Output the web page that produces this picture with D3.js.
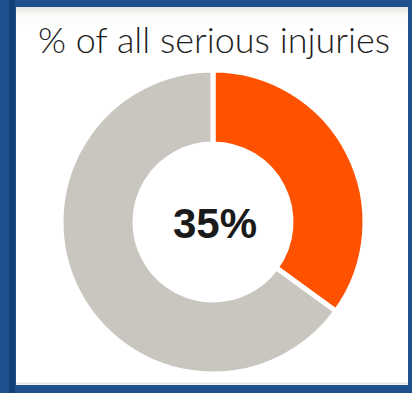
<!DOCTYPE html>
<html>
<head>
<meta charset="utf-8">
<script src="https://cdn.jsdelivr.net/npm/d3@7"></script>
<style>
  html, body { margin: 0; padding: 0; background: #1d4d8d; }
  svg { display: block; }
</style>
</head>
<body>
<svg id="chart" width="412" height="393"></svg>
<script>
// Donut values: share of all serious injuries vs. the remainder
const categories = ["This group", "All other"];
const values = [35, 65];
const sliceColors = ["#fe5200", "#c9c6c0"];
const titleText = "% of all serious injuries";
const centerLabel = "35%";

const W = 412, H = 393;
const svg = d3.select("#chart");

const defs = svg.append("defs");
const panelGrad = defs.append("linearGradient")
  .attr("id", "panelShade").attr("x1", 0).attr("y1", 0).attr("x2", 0).attr("y2", 1);
panelGrad.append("stop").attr("offset", "0").attr("stop-color", "#e4e6e2");
panelGrad.append("stop").attr("offset", "0.02").attr("stop-color", "#fbfbf9");
panelGrad.append("stop").attr("offset", "0.06").attr("stop-color", "#ffffff");
panelGrad.append("stop").attr("offset", "1").attr("stop-color", "#ffffff");

// blue frame with a darker stripe on the left
svg.append("rect").attr("x", 0).attr("y", 0).attr("width", W).attr("height", H).attr("fill", "#1e4f8f");
svg.append("rect").attr("x", 9).attr("y", 0).attr("width", 6).attr("height", H).attr("fill", "#143f78");

// white panel
const panel = { x: 16, y: 7, w: 392, h: 378 };
svg.append("rect")
  .attr("x", panel.x).attr("y", panel.y)
  .attr("width", panel.w).attr("height", panel.h)
  .attr("fill", "url(#panelShade)");
svg.append("line")
  .attr("x1", panel.x).attr("x2", panel.x + panel.w)
  .attr("y1", panel.y + panel.h - 1.5).attr("y2", panel.y + panel.h - 1.5)
  .attr("stroke", "#e6e8e4").attr("stroke-width", 2);

// title
svg.append("text")
  .attr("x", 214).attr("y", 53)
  .attr("text-anchor", "middle")
  .attr("font-family", "Lato, 'Open Sans', sans-serif")
  .attr("font-weight", 300)
  .attr("font-size", 35)
  .attr("fill", "#1e1e1e")
  .attr("textLength", 352)
  .attr("lengthAdjust", "spacingAndGlyphs")
  .text(titleText);

// donut
const cx = 213, cy = 222, outerR = 152, innerR = 78;
const pie = d3.pie().sort(null).value(d => d.value);
const arc = d3.arc().innerRadius(innerR).outerRadius(outerR);
const data = categories.map((c, i) => ({ name: c, value: values[i], color: sliceColors[i] }));

const g = svg.append("g").attr("transform", `translate(${cx},${cy})`);
g.selectAll("path")
  .data(pie(data))
  .join("path")
  .attr("d", arc)
  .attr("fill", d => d.data.color)
  .attr("stroke", "#ffffff")
  .attr("stroke-width", 5)
  .attr("stroke-linejoin", "miter");

// centre value
g.append("text")
  .attr("x", 2).attr("y", 16)
  .attr("text-anchor", "middle")
  .attr("font-family", "'Liberation Sans', Arial, sans-serif")
  .attr("font-weight", 700)
  .attr("font-size", 42)
  .attr("fill", "#1a1a1a")
  .text(centerLabel);
</script>
</body>
</html>
